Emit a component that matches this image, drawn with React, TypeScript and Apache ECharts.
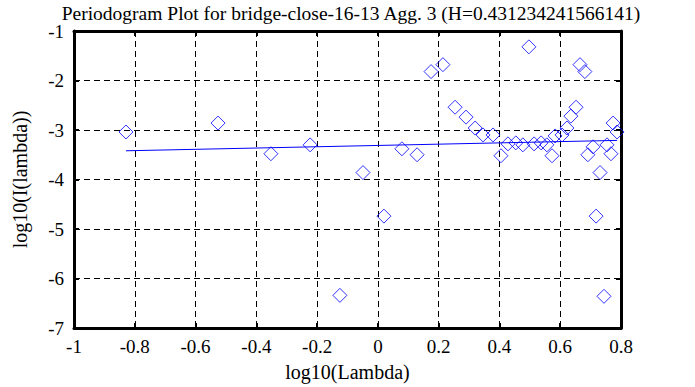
import React, { useEffect, useRef } from "react";
import * as echarts from "echarts";

const titleText = "Periodogram Plot for bridge-close-16-13 Agg. 3 (H=0.431234241566141)";
const xName = "log10(Lambda)";
const yName = "log10(I(lambda))";

const logLambda = [
  -0.829, -0.526, -0.352, -0.223, -0.125, -0.049, 0.02, 0.079, 0.129, 0.175,
  0.214, 0.254, 0.29, 0.32, 0.346, 0.379, 0.405, 0.428, 0.454, 0.477,
  0.497, 0.514, 0.537, 0.556, 0.573, 0.583, 0.606, 0.622, 0.635, 0.652,
  0.665, 0.681, 0.691, 0.708, 0.718, 0.731, 0.744, 0.754, 0.767, 0.774, 0.787,
];
const logI = [
  -3.04, -2.86, -3.48, -3.3, -6.34, -3.86, -4.74, -3.38, -3.5, -1.82,
  -1.68, -2.54, -2.74, -2.96, -3.1, -3.1, -3.52, -3.28, -3.26, -3.3,
  -1.32, -3.28, -3.26, -3.3, -3.52, -3.12, -3.1, -2.96, -2.72, -2.54,
  -1.68, -1.82, -3.5, -3.34, -4.74, -3.86, -6.36, -3.3, -3.48, -2.86, -3.04,
];
const fitX = [-0.829, 0.787];
const fitY = [-3.42, -3.21];

const serif = "'Liberation Serif', 'Times New Roman', serif";

export default function App() {
  const ref = useRef<HTMLDivElement>(null);
  useEffect(() => {
    if (!ref.current) return;
    const chart = echarts.init(ref.current, undefined, { renderer: "svg" });
    const axisLine = { show: true, onZero: false, lineStyle: { color: "#000", width: 3 } };
    const tick = { show: true, inside: true, length: 5, lineStyle: { color: "#000", width: 2 } };
    const grid = { show: true, lineStyle: { color: "#000", type: [6, 4] as any, width: 1 } };
    chart.setOption({
      animation: false,
      backgroundColor: "#fff",
      title: {
        text: titleText,
        left: 346,
        textAlign: "center",
        top: -2,
        textStyle: { fontFamily: serif, fontSize: 19.5, fontWeight: "normal", color: "#000" },
      },
      grid: { left: 74, right: 74, top: 31, bottom: 56, containLabel: false },
      xAxis: [
        {
          type: "value",
          min: -1,
          max: 0.8,
          interval: 0.2,
          name: xName,
          nameLocation: "middle",
          nameGap: 34,
          nameTextStyle: { fontFamily: serif, fontSize: 20, color: "#000" },
          axisLine,
          axisTick: tick,
          splitLine: grid,
          axisLabel: {
            fontFamily: serif,
            fontSize: 19,
            color: "#000",
            margin: 9,
            formatter: (v: number) => String(Math.round(v * 10) / 10),
          },
        },
        {
          type: "value",
          position: "top",
          min: -1,
          max: 0.8,
          interval: 0.2,
          axisLine,
          axisTick: tick,
          splitLine: { show: false },
          axisLabel: { show: false },
        },
      ],
      yAxis: [
        {
          type: "value",
          min: -7,
          max: -1,
          interval: 1,
          name: yName,
          nameLocation: "middle",
          nameGap: 44,
          nameTextStyle: { fontFamily: serif, fontSize: 20, color: "#000" },
          axisLine,
          axisTick: tick,
          splitLine: grid,
          axisLabel: { fontFamily: serif, fontSize: 19, color: "#000", margin: 10 },
        },
        {
          type: "value",
          position: "right",
          min: -7,
          max: -1,
          interval: 1,
          axisLine,
          axisTick: tick,
          splitLine: { show: false },
          axisLabel: { show: false },
        },
      ],
      series: [
        {
          type: "scatter",
          data: logLambda.map((x, i) => [x, logI[i]]),
          symbol: "diamond",
          symbolSize: [14, 14],
          itemStyle: { color: "transparent", borderColor: "#0000ff", borderWidth: 1 },
          z: 3,
        },
        {
          type: "line",
          data: fitX.map((x, i) => [x, fitY[i]]),
          showSymbol: false,
          symbol: "none",
          lineStyle: { color: "#0000ff", width: 1 },
          z: 4,
        },
      ],
    });
    return () => chart.dispose();
  }, []);
  return <div ref={ref} style={{ width: 695, height: 387, position: "absolute", left: 0, top: 0 }} />;
}
